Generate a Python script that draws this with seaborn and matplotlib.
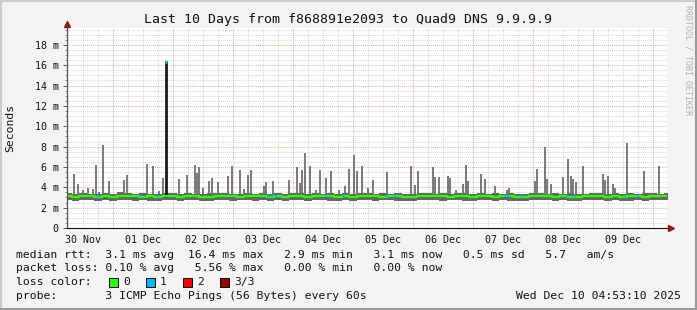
import numpy as np
import matplotlib
matplotlib.use("Agg")
import matplotlib.pyplot as plt
from matplotlib.lines import Line2D
from matplotlib.patches import Rectangle
import seaborn as sns

# ---------------- data ----------------
day_labels = ["30 Nov", "01 Dec", "02 Dec", "03 Dec", "04 Dec",
              "05 Dec", "06 Dec", "07 Dec", "08 Dec", "09 Dec"]
label_pos = [0.5, 1.5, 2.5, 3.5, 4.5, 5.5, 6.5, 7.5, 8.5, 9.5]   # days since 30 Nov 00:00
y_ticks = [0, 2, 4, 6, 8, 10, 12, 14, 16, 18]
y_tick_labels = ["0", "2 m", "4 m", "6 m", "8 m", "10 m", "12 m", "14 m", "16 m", "18 m"]

# median rtt (ms), every 3 h starting 30 Nov 06:00
median_ms = [
    3.10, 3.05, 3.10, 3.15, 3.00, 3.10, 3.05, 3.10, 3.15, 3.10,
    3.05, 3.10, 3.00, 3.10, 3.15, 3.05, 3.10, 3.10, 3.00, 3.05,
    3.10, 3.15, 3.10, 3.05, 3.10, 3.10, 3.15, 3.05, 3.10, 3.00,
    3.10, 3.10, 3.05, 3.15, 3.10, 3.10, 3.05, 3.10, 3.00, 3.10,
    3.15, 3.10, 3.05, 3.10, 3.10, 3.00, 3.05, 3.10, 3.15, 3.10,
    3.10, 3.05, 3.10, 3.10, 3.00, 3.10, 3.15, 3.05, 3.10, 3.10,
    3.05, 3.00, 3.10, 3.10, 3.15, 3.05, 3.10, 3.05, 3.00, 3.10,
    3.10, 3.15, 3.05, 3.10, 3.00, 3.10, 3.10, 3.05, 3.10, 3.15, 3.10]
smoke_low = [
    2.75, 2.70, 2.80, 2.75, 2.65, 2.80, 2.70, 2.75, 2.80, 2.70,
    2.75, 2.65, 2.70, 2.80, 2.75, 2.70, 2.75, 2.80, 2.65, 2.70,
    2.80, 2.75, 2.70, 2.75, 2.80, 2.70, 2.75, 2.65, 2.75, 2.70,
    2.80, 2.75, 2.70, 2.80, 2.75, 2.70, 2.65, 2.75, 2.70, 2.80,
    2.75, 2.70, 2.75, 2.80, 2.70, 2.65, 2.70, 2.75, 2.80, 2.75,
    2.70, 2.75, 2.80, 2.70, 2.65, 2.75, 2.80, 2.70, 2.75, 2.70,
    2.65, 2.70, 2.75, 2.80, 2.75, 2.70, 2.75, 2.70, 2.65, 2.75,
    2.80, 2.75, 2.70, 2.75, 2.65, 2.70, 2.75, 2.70, 2.75, 2.80, 2.75]
smoke_high = [
    3.40, 3.35, 3.45, 3.35, 3.30, 3.40, 3.35, 3.50, 3.40, 3.35,
    3.45, 3.35, 3.30, 3.40, 3.45, 3.35, 3.40, 3.35, 3.30, 3.40,
    3.45, 3.40, 3.35, 3.30, 3.40, 3.35, 3.45, 3.35, 3.40, 3.30,
    3.40, 3.45, 3.35, 3.40, 3.35, 3.40, 3.30, 3.45, 3.35, 3.40,
    3.45, 3.35, 3.40, 3.35, 3.40, 3.30, 3.35, 3.40, 3.45, 3.35,
    3.40, 3.35, 3.45, 3.40, 3.30, 3.40, 3.35, 3.40, 3.35, 3.45,
    3.35, 3.30, 3.40, 3.45, 3.35, 3.40, 3.35, 3.40, 3.30, 3.35,
    3.40, 3.45, 3.35, 3.40, 3.30, 3.40, 3.35, 3.40, 3.45, 3.35, 3.40]
median_day = 0.25 + 0.125 * np.arange(len(median_ms))

# smoke spikes (max rtt), days since 30 Nov 00:00, ms
spike_day = [0.355, 0.422, 0.500, 0.588, 0.672, 0.722, 0.772, 0.838, 0.938, 1.188,
             1.238, 1.562, 1.672, 1.772, 1.838, 2.105, 2.228, 2.362, 2.405, 2.438,
             2.495, 2.595, 2.655, 2.745, 2.922, 2.978, 3.122, 3.178, 3.245, 3.305,
             3.522, 3.545, 3.662, 3.933, 4.072, 4.117, 4.155, 4.205, 4.288, 4.378,
             4.445, 4.550, 4.633, 4.772, 4.867, 4.938, 5.022, 5.067, 5.145, 5.245,
             5.338, 5.562, 5.962, 6.033, 6.088, 6.338, 6.372, 6.428, 6.583, 6.622,
             6.717, 6.838, 6.878, 6.922, 7.138, 7.205, 7.372, 7.562, 7.605, 8.038,
             8.072, 8.205, 8.238, 8.295, 8.505, 8.588, 8.628, 8.672, 8.722, 8.838,
             9.162, 9.200, 9.255, 9.338, 9.367, 9.572, 9.855, 10.105]
spike_ms = [5.3, 4.35, 3.7, 3.9, 3.85, 6.2, 3.5, 8.2, 4.6, 4.75,
            5.25, 6.3, 6.1, 3.6, 4.9, 4.85, 5.25, 6.2, 5.4, 5.95,
            3.9, 4.6, 4.9, 4.5, 5.1, 6.1, 5.7, 3.85, 5.2, 5.7,
            4.1, 4.5, 4.65, 4.75, 5.95, 4.4, 5.7, 7.4, 6.05, 3.7,
            5.7, 4.9, 5.6, 3.7, 4.1, 5.8, 7.2, 5.65, 6.1, 3.9,
            4.75, 5.55, 6.05, 4.2, 5.65, 5.95, 5.05, 5.05, 5.15, 4.9,
            3.7, 4.35, 6.2, 4.65, 5.3, 4.85, 4.1, 3.7, 3.9, 4.6,
            5.8, 8.0, 4.85, 4.35, 5.05, 6.8, 5.1, 4.85, 4.5, 6.05,
            5.3, 4.75, 5.15, 4.35, 3.9, 8.4, 5.65, 6.05]
big_day = 1.883
big_ms = 16.4

# samples with 1/3 loss (blue median)
blue_day = [0.750, 0.775, 1.478, 1.750, 3.583, 3.650, 3.717, 4.550, 4.833,
            5.567, 5.700, 7.533, 7.583, 7.817, 8.567, 8.700, 9.533, 9.750]

loss_labels = ["0", "1", "2", "3/3"]
loss_colors = ["#26ff00", "#00b8ff", "#ff0000", "#a00000"]

# ---------------- style ----------------
sns.set_style("white")
plt.rcParams["font.family"] = ["DejaVu Sans Mono", "DejaVu Sans"]

W, H = 697, 310
fig = plt.figure(figsize=(W / 100, H / 100), dpi=100)
fig.patch.set_facecolor("#f3f3f3")
ax = fig.add_axes([67 / W, (H - 228) / H, 600 / W, 200 / H])
ax.set_facecolor("white")

x0, x1 = 0.2333, 10.2333
y0, y1 = 0.0, 19.66
ax.set_xlim(x0, x1)
ax.set_ylim(y0, y1)

# grid
minor_c = "#d6d6d6"
major_c = "#e8aaaa"
dot = (0, (1, 1))
for v in np.arange(0.5, y1, 0.5):
    if abs(v / 2 - round(v / 2)) > 1e-6:
        ax.axhline(v, color=minor_c, lw=0.7, ls=dot, zorder=0)
for v in y_ticks[1:]:
    ax.axhline(v, color=major_c, lw=0.7, ls=dot, zorder=0.5)
for v in np.arange(0.25, x1, 0.25):
    if v > x0 and abs(v - round(v)) > 1e-6:
        ax.axvline(v, color=minor_c, lw=0.7, ls=dot, zorder=0)
for v in range(1, 11):
    ax.axvline(v, color=major_c, lw=0.7, ls=dot, zorder=0.5)

# smoke
ax.fill_between(median_day, smoke_low, smoke_high, step="mid", color="#676767", lw=0, zorder=2)
ax.vlines(spike_day, 3.3, spike_ms, color="#6e6e6e", lw=1.3, zorder=2)
ax.vlines([big_day], 3.0, [big_ms], color="#1a1a1a", lw=2.0, zorder=3)
ax.hlines([big_ms - 0.1], big_day - 0.012, big_day + 0.012, color=loss_colors[1], lw=2.0, zorder=4)

# median line
sns.lineplot(x=median_day, y=median_ms, ax=ax, color=loss_colors[0], lw=1.6,
             drawstyle="steps-mid", zorder=4, legend=False)
ax.hlines([3.1] * len(blue_day), np.array(blue_day) - 0.012, np.array(blue_day) + 0.012,
          color=loss_colors[1], lw=1.6, zorder=5)

# axes
for s in ax.spines.values():
    s.set_visible(False)
ax.set_xticks(label_pos)
ax.set_xticklabels(day_labels)
ax.set_yticks(y_ticks)
ax.set_yticklabels(y_tick_labels)
ax.set_yticks(np.arange(0, y1, 0.5), minor=True)
ax.tick_params(axis="x", length=0, pad=5, labelsize=7.2, labelcolor="#111111")
ax.tick_params(axis="y", which="major", length=3, width=0.7, color="#555555",
               pad=3, labelsize=7.2, labelcolor="#111111", left=True)
ax.tick_params(axis="y", which="minor", length=1.5, width=0.6, color="#777777", left=True)
ax.set_xlabel("")
ax.set_ylabel("")

ax.plot([0, 0], [0, 1.02], transform=ax.transAxes, color="#505050", lw=0.8, clip_on=False, zorder=6)
ax.plot([0, 1.006], [0, 0], transform=ax.transAxes, color="#111111", lw=0.8, clip_on=False, zorder=6)
ax.plot([0], [1.02], transform=ax.transAxes, marker="^", ms=5, color="#8b1a1a", clip_on=False, zorder=7)
ax.plot([1.006], [0], transform=ax.transAxes, marker=">", ms=5, color="#8b1a1a", clip_on=False, zorder=7)

# texts
fig.text(348 / W, 1 - 19 / H, "Last 10 Days from f868891e2093 to Quad9 DNS 9.9.9.9",
         ha="center", va="center", fontsize=9.5, color="#111111")
fig.text(10 / W, 1 - 128 / H, "Seconds", rotation=90, ha="center", va="center",
         fontsize=8.2, color="#111111")
fig.text(688 / W, 1 - 5 / H, "RRDTOOL / TOBI OETIKER", rotation=270, ha="center", va="top",
         fontsize=6, color="#b0b0b0")

fs = 8.2
lx = 16 / W
fig.text(lx, 1 - 255 / H,
         "median rtt:  3.1 ms avg  16.4 ms max   2.9 ms min   3.1 ms now   0.5 ms sd   5.7   am/s",
         ha="left", va="center", fontsize=fs, color="#111111")
fig.text(lx, 1 - 268 / H,
         "packet loss: 0.10 % avg   5.56 % max   0.00 % min   0.00 % now",
         ha="left", va="center", fontsize=fs, color="#111111")
fig.text(lx, 1 - 282 / H, "loss color:", ha="left", va="center", fontsize=fs, color="#111111")
box_x = [109, 146, 183, 220]
for bx, lab, col in zip(box_x, loss_labels, loss_colors):
    fig.add_artist(Rectangle((bx / W, 1 - 286.5 / H), 9 / W, 9 / H, transform=fig.transFigure,
                             facecolor=col, edgecolor="black", lw=0.7))
    fig.text((bx + 14) / W, 1 - 282 / H, lab, ha="left", va="center", fontsize=fs, color="#111111")
fig.text(lx, 1 - 296 / H, "probe:       3 ICMP Echo Pings (56 Bytes) every 60s",
         ha="left", va="center", fontsize=fs, color="#111111")
fig.text(681 / W, 1 - 296 / H, "Wed Dec 10 04:53:10 2025", ha="right", va="center",
         fontsize=fs, color="#111111")

# 3D frame
fig.add_artist(Line2D([0, 1], [1 - 1 / H, 1 - 1 / H], transform=fig.transFigure, color="#cbcbcb", lw=1.5))
fig.add_artist(Line2D([1 / W, 1 / W], [0, 1], transform=fig.transFigure, color="#cbcbcb", lw=1.5))
fig.add_artist(Line2D([0, 1], [1.5 / H, 1.5 / H], transform=fig.transFigure, color="#999999", lw=2.2))
fig.add_artist(Line2D([1 - 1.5 / W, 1 - 1.5 / W], [0, 1], transform=fig.transFigure, color="#999999", lw=2.2))

fig.savefig("out.png", dpi=100, facecolor=fig.get_facecolor())
